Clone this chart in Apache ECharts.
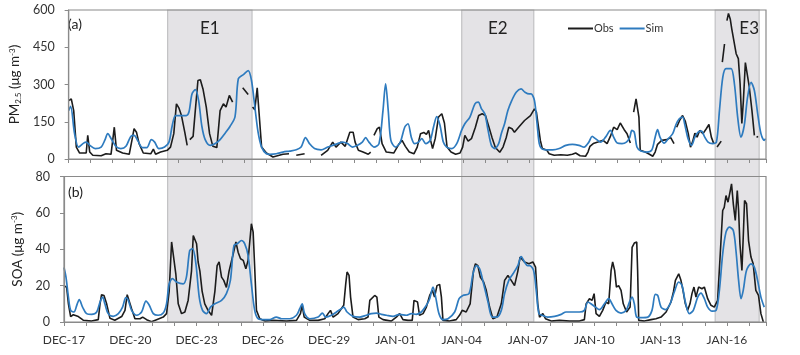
<!DOCTYPE html>
<html>
<head>
<meta charset="utf-8">
<script src="https://cdn.jsdelivr.net/npm/echarts@6/dist/echarts.min.js"></script>
<style>html,body{margin:0;padding:0;background:#fff}#c{width:800px;height:355px}</style>
</head>
<body>
<div id="c"></div>
<script>
// x = days since DEC-17 00:00
const tickLabels = ['DEC-17','DEC-20','DEC-23','DEC-26','DEC-29','JAN-01','JAN-04','JAN-07','JAN-10','JAN-13','JAN-16'];
const eventNames = ['E1','E2','E3'];
const eventStart = [4.69, 18.0, 29.47];
const eventEnd = [8.51, 21.26, 31.46];

const obsPM = [[0,235],[0.12,242],[0.23,195],[0.35,48],[0.5,24],[0.8,24],[0.87,95],[0.96,28],[1.1,15],[1.48,13],[1.7,21],[1.93,19],[2.08,128],[2.18,35],[2.46,24],[2.76,19],[2.91,88],[2.98,122],[3.09,108],[3.21,62],[3.4,24],[3.74,21],[3.86,40],[3.96,19],[4.19,28],[4.49,35],[4.64,48],[4.79,102],[4.91,222],[5.02,206],[5.14,175],[5.29,108],[5.4,55],[5.46,null],[5.52,78],[5.67,91],[5.77,195],[5.89,316],[6.0,319],[6.12,282],[6.27,209],[6.42,102],[6.57,51],[6.75,46],[6.9,195],[7.05,222],[7.17,209],[7.32,256],[7.47,229],[7.7,null],[7.93,287],[8.18,260],[8.28,null],[8.38,209],[8.48,198],[8.59,287],[8.66,282],[8.79,48],[9.01,24],
[9.31,8],[9.76,19],[10.04,21],[10.2,null],[10.37,15],[10.75,21],[11.1,null],[11.5,15],[11.8,35],[12.03,68],[12.18,48],[12.4,68],[12.6,51],[12.81,108],[12.96,108],[13.05,68],[13.2,35],[13.41,28],[13.65,19],[13.76,28],[13.83,null],[13.91,95],[14.06,122],[14.16,128],[14.28,62],[14.47,28],[14.81,24],[15.04,59],[15.19,75],[15.34,51],[15.52,28],[15.73,21],[15.88,48],[16.03,102],[16.18,107],[16.3,99],[16.4,115],[16.49,75],[16.58,42],[16.7,82],[16.85,169],[17.0,182],[17.12,145],[17.24,48],[17.42,28],[17.63,19],[17.83,24],[17.95,48],[18.05,95],[18.2,72],[18.35,82],[18.53,128],[18.68,175],[18.84,182],[18.99,175],[19.14,131],[19.29,86],[19.44,46],[19.64,27],[19.79,48],[19.94,88],[20.05,128],[20.2,122],[20.31,108],[20.5,128],[20.77,155],[21.04,175],
[21.22,202],[21.31,189],[21.4,182],[21.49,75],[21.58,42],[21.79,35],[21.89,21],[22.12,15],[22.42,17],[22.72,15],[22.95,19],[23.1,24],[23.3,13],[23.55,11],[23.66,28],[23.75,51],[23.9,62],[24.11,68],[24.35,75],[24.53,62],[24.68,91],[24.83,128],[24.99,118],[25.13,145],[25.22,139],[25.31,118],[25.44,102],[25.59,64],[25.66,null],[25.74,189],[25.85,242],[25.92,249],[25.98,169],[26.04,35],[26.27,28],[26.46,19],[26.61,11],[26.72,28],[26.83,59],[27.02,75],[27.25,78],[27.43,86],[27.58,62],[27.64,null],[27.7,128],[27.85,158],[27.97,175],[28.09,153],[28.23,102],[28.33,48],[28.42,68],[28.53,104],[28.63,88],[28.75,115],[28.9,102],[29.05,122],[29.17,139],[29.28,88],[29.39,62],[29.46,null],[29.54,48],[29.73,72],[29.76,null],[29.78,390],[29.88,463],[29.94,null],[29.99,557],[30.06,586],[30.14,564],[30.21,524],[30.29,517],[30.41,424],[30.51,404],[30.59,303],[30.67,143],[30.74,235],[30.83,388],[30.91,396],[31.01,289],[31.13,195],[31.24,95],[31.29,null],[31.34,87],[31.41,91]];

const simPM = [[0,195],[0.09,212],[0.27,102],[0.45,48],[0.68,64],[0.8,68],[0.98,54],[1.21,42],[1.48,48],[1.66,78],[1.78,102],[1.96,78],[2.15,51],[2.38,42],[2.61,51],[2.83,91],[2.98,95],[3.16,72],[3.36,46],[3.56,46],[3.77,78],[3.92,68],[4.11,42],[4.37,48],[4.57,68],[4.72,135],[4.87,175],[5.09,175],[5.36,175],[5.48,189],[5.62,262],[5.77,279],[5.92,236],[6.07,131],[6.22,78],[6.45,55],[6.68,62],[6.9,78],[7.13,104],[7.35,131],[7.58,171],[7.73,323],[7.96,340],[8.18,356],[8.33,316],[8.48,212],[8.63,108],[8.79,48],[9.01,21],
[9.16,19],[9.46,21],[9.76,28],[10.07,32],[10.37,37],[10.59,48],[10.79,86],[10.97,62],[11.2,42],[11.5,37],[11.8,48],[12.03,55],[12.25,62],[12.48,68],[12.7,62],[12.93,48],[13.16,55],[13.38,68],[13.53,86],[13.68,68],[13.91,48],[14.14,62],[14.32,195],[14.44,303],[14.56,195],[14.68,75],[14.89,48],[15.11,68],[15.31,128],[15.46,142],[15.61,88],[15.76,62],[15.94,68],[16.09,82],[16.27,62],[16.47,75],[16.62,128],[16.77,171],[16.92,135],[17.07,68],[17.22,48],[17.45,42],[17.68,62],[17.9,115],[18.05,142],[18.28,169],[18.51,222],[18.66,229],[18.81,202],[18.96,182],[19.11,115],[19.26,55],[19.41,42],[19.59,62],[19.71,102],[19.86,142],[20.01,195],[20.19,236],[20.39,269],[20.61,282],[20.79,269],[20.98,262],
[21.07,262],[21.22,236],[21.34,142],[21.44,62],[21.55,42],[21.75,37],[22.05,37],[22.35,42],[22.65,55],[22.95,59],[23.25,55],[23.48,48],[23.7,68],[23.85,91],[24.0,82],[24.23,68],[24.46,88],[24.68,115],[24.83,88],[24.99,64],[25.21,62],[25.41,68],[25.56,86],[25.66,115],[25.77,108],[25.89,48],[26.07,32],[26.34,28],[26.57,37],[26.72,88],[26.83,118],[26.94,88],[27.13,64],[27.32,82],[27.52,102],[27.67,139],[27.82,162],[27.97,169],[28.07,139],[28.22,82],[28.38,55],[28.53,88],[28.68,108],[28.83,112],[28.98,88],[29.13,68],[29.33,62],[29.51,68],[29.65,195],[29.8,329],[29.95,364],[30.18,364],[30.33,303],[30.48,168],[30.63,88],[30.78,135],[30.93,249],[31.09,309],[31.24,276],[31.39,183],[31.54,102],[31.69,75],[31.75,82]];

const obsSOA = [[0,20],[0.12,19],[0.2,10],[0.3,3],[0.42,4],[0.65,3],[0.87,1],[1.25,0.5],[1.55,1.3],[1.63,10],[1.7,15],[1.81,14.6],[1.93,10],[2.08,2],[2.3,1],[2.61,3],[2.76,6.4],[2.86,15],[2.95,14.6],[3.06,7.3],[3.21,1.8],[3.44,1.8],[3.56,2.7],[3.74,1.3],[3.96,0.2],[4.19,1.3],[4.49,2.7],[4.64,4.6],[4.76,17],[4.87,44],[4.94,43],[5.06,26.5],[5.17,10],[5.32,4.6],[5.47,5.5],[5.62,12],[5.77,28],[5.85,47.6],[5.92,46.7],[6.0,43],[6.07,33],[6.15,28],[6.25,17],[6.37,10],[6.52,6.4],[6.68,3.7],[6.83,17],[6.93,31],[7.02,33],[7.13,24.7],[7.23,22.9],[7.35,19],[7.47,28],[7.66,37.5],[7.78,44],[7.88,38.4],[7.99,34.8],[8.11,33.9],[8.23,29.3],[8.33,33.9],[8.44,48.5],[8.48,54],[8.56,49.4],[8.63,30],[8.71,6.4],[8.86,1.8],[9.09,0.5],
[9.46,0.9],[10.07,0.5],[10.52,0.9],[10.7,4.6],[10.78,9.2],[10.87,2.7],[11.12,0.9],[11.5,0.9],[11.8,1.8],[11.95,4.6],[12.06,6.4],[12.18,2.7],[12.4,4.6],[12.55,7.3],[12.66,9.2],[12.75,21],[12.81,27.5],[12.9,25.6],[12.97,13.7],[13.08,2.7],[13.31,1.3],[13.61,1.8],[13.76,2.7],[13.84,11.9],[13.91,12.8],[14.06,14.6],[14.16,13.7],[14.25,2.7],[14.44,1.3],[14.81,0.5],[15.04,2.7],[15.19,4.6],[15.34,1.3],[15.57,0.9],[15.76,0.9],[15.84,11.9],[15.92,12.8],[16.0,11],[16.09,3.7],[16.25,4.6],[16.4,8.2],[16.55,14.6],[16.67,17.4],[16.77,13.7],[16.88,20],[17.0,20.7],[17.08,13.7],[17.15,0.9],[17.45,0.5],[17.75,1.3],[17.9,3.7],[18.02,6.4],[18.2,5.5],[18.38,10],[18.53,28],[18.62,32],[18.73,31],[18.84,24.7],[18.99,22],[19.11,17.4],[19.26,8.2],[19.41,1.8],[19.59,2.7],[19.79,10],[19.94,22.9],[20.09,25.6],[20.24,22.9],[20.39,20],[20.54,28],[20.64,35.7],[20.73,35.3],[20.84,33],[21.04,32],
[21.22,33],[21.34,30.2],[21.44,10],[21.52,2.7],[21.67,4.6],[21.79,1.8],[22.05,0.5],[22.42,0.9],[22.88,0.5],[23.33,0.5],[23.55,1.3],[23.63,10],[23.78,12.8],[23.9,11.9],[23.99,15.6],[24.08,4.6],[24.23,3.1],[24.38,6.4],[24.53,11],[24.65,10],[24.76,28.4],[24.83,33],[24.92,28.4],[25.0,19.2],[25.1,20],[25.21,17.4],[25.31,10],[25.46,5.5],[25.62,8.2],[25.71,41],[25.81,43.4],[25.92,44],[25.96,28.4],[26.01,0.9],[26.27,0.5],[26.57,1.3],[26.79,1.8],[27.02,2.7],[27.25,5.5],[27.47,11],[27.58,16.5],[27.67,22.9],[27.82,26.5],[27.92,22.9],[28.0,18.3],[28.12,10],[28.22,6.4],[28.33,10],[28.42,15.6],[28.51,19.2],[28.6,13.7],[28.72,19.2],[28.87,18.3],[28.98,19.2],[29.13,12.8],[29.28,9.2],[29.43,8.2],[29.58,11.9],[29.7,37.5],[29.81,61.3],[29.88,63],[29.96,69.5],[30.05,65.9],[30.14,71.4],[30.21,76],[30.29,65],[30.38,55.8],[30.47,72.3],[30.53,61.3],[30.59,43],[30.68,28.4],[30.74,46.7],[30.8,66.8],[30.89,65],[30.98,44.8],[31.09,35.7],[31.19,32],[31.31,17.4],[31.43,14.6],[31.54,4.6],[31.65,0]];

const simSOA = [[0,30],[0.09,24.7],[0.2,13.7],[0.3,6.4],[0.45,5.5],[0.6,10],[0.69,12.3],[0.84,8.2],[1.02,4.6],[1.25,4.2],[1.48,5.5],[1.63,11],[1.75,13.7],[1.85,10],[2.0,4.6],[2.23,3.1],[2.46,4.6],[2.65,8.2],[2.8,13.4],[2.91,11.9],[3.06,6.4],[3.29,3.7],[3.51,5.5],[3.71,11.5],[3.86,9.2],[4.04,4.6],[4.26,3.7],[4.49,4.9],[4.64,10],[4.76,21],[4.91,23.8],[5.09,22],[5.39,21],[5.54,24.7],[5.69,39.3],[5.82,40.3],[5.97,32],[6.12,13.7],[6.27,6.4],[6.45,4.6],[6.63,8.2],[6.83,10],[7.13,11.9],[7.35,15.6],[7.53,22.9],[7.69,42],[7.84,43],[8.03,44.8],[8.18,43],[8.33,36.6],[8.48,21],[8.63,6.4],[8.79,1.8],[9.09,1.3],
[9.31,1.3],[9.61,2.7],[9.84,1.8],[10.22,1.8],[10.52,3.7],[10.67,7.3],[10.78,10],[10.89,4.6],[11.12,1.8],[11.5,2.7],[11.69,4.9],[11.85,2.7],[12.1,3.7],[12.33,5.5],[12.55,7.3],[12.66,8.2],[12.81,5.5],[13.08,3.1],[13.38,2.7],[13.68,3.7],[13.91,4.6],[14.14,4.9],[14.36,4.2],[14.59,3.7],[14.89,3.1],[15.19,4.2],[15.49,3.7],[15.72,4.6],[15.94,4.2],[16.17,5.5],[16.4,9.2],[16.55,12.8],[16.7,19.2],[16.82,13.7],[16.97,4.6],[17.15,1.3],[17.38,1.8],[17.68,5.5],[17.88,12.8],[18.05,14.6],[18.33,15.6],[18.51,26.5],[18.66,31],[18.81,29.3],[18.99,21],[19.19,11],[19.38,2.7],[19.59,2.7],[19.79,6.4],[19.94,15.6],[20.13,22.9],[20.32,26.5],[20.54,31],[20.69,36],[20.84,33],[20.98,31],
[21.07,31],[21.25,28.4],[21.37,17.4],[21.49,4.6],[21.64,3.7],[21.89,2.7],[22.2,3.1],[22.5,4.2],[22.72,5.5],[22.98,5.5],[23.33,5.5],[23.55,6.4],[23.71,11],[23.85,10],[24.05,8.2],[24.23,6.8],[24.46,10],[24.65,12.8],[24.8,10],[24.98,6.4],[25.21,4.9],[25.44,6.4],[25.59,11],[25.71,13.7],[25.81,10],[25.92,2.7],[26.11,2.4],[26.42,2.7],[26.61,6.4],[26.76,15.2],[26.87,14.6],[27.02,8.2],[27.22,6.8],[27.43,10],[27.62,16.5],[27.82,22],[27.97,20],[28.12,11],[28.3,4.6],[28.48,6.4],[28.68,13.7],[28.83,15.9],[28.98,12.8],[29.13,8.2],[29.33,6],[29.51,6.4],[29.66,17.4],[29.81,37.5],[29.96,49.4],[30.11,52.2],[30.29,50.3],[30.41,39.3],[30.53,22.9],[30.64,12.8],[30.74,17.4],[30.89,28.4],[31.09,32],[31.24,30.2],[31.39,22.9],[31.54,13.7],[31.69,8.2]];

const X_MIN = 0, X_MAX = 31.77;
const FONT = 'Lato';
const OBS_COLOR = '#1c1c1c', SIM_COLOR = '#2e7bbf';
const AXIS_COLOR = '#8a8a8a';

function xLabel(v) {
  const r = Math.round(v);
  if (Math.abs(v - r) < 1e-6 && r % 3 === 0) return tickLabels[r / 3] || '';
  return '';
}

function xAxisCfg(gridIndex, showLabels) {
  return {
    type: 'value', gridIndex, min: X_MIN, max: X_MAX, interval: 1, z: 5,
    axisLine: { show: true, lineStyle: { color: AXIS_COLOR, width: 1.2 } },
    axisTick: { show: true, inside: false, length: 4, lineStyle: { color: AXIS_COLOR } },
    axisLabel: { show: showLabels, formatter: xLabel, margin: 12, fontFamily: FONT, fontSize: 12, color: '#333' },
    splitLine: { show: false }
  };
}
function yAxisCfg(gridIndex, max, interval, name) {
  return {
    type: 'value', gridIndex, min: 0, max, interval, z: 5,
    name, nameLocation: 'middle', nameRotate: 90, nameGap: 37,
    nameTextStyle: {
      rich: {
        a: { fontFamily: FONT, fontSize: 13.5, color: '#222' },
        b: { fontFamily: FONT, fontSize: 8, color: '#222', verticalAlign: 'bottom' },
        c: { fontFamily: FONT, fontSize: 8, color: '#222', verticalAlign: 'top' }
      }
    },
    axisLine: { show: true, lineStyle: { color: AXIS_COLOR, width: 1.2 } },
    axisTick: { show: true, inside: false, length: 4, lineStyle: { color: AXIS_COLOR } },
    axisLabel: { margin: 14, fontFamily: FONT, fontSize: 12.5, color: '#333' },
    splitLine: { show: false }
  };
}

const areaData = eventNames.map((n, i) => [
  { name: n, xAxis: eventStart[i], label: i === 2 ? { offset: [12, 0] } : {} },
  { xAxis: eventEnd[i] }
]);

const chart = echarts.init(document.getElementById('c'), null, { renderer: 'canvas' });
chart.setOption({
  animation: false,
  backgroundColor: '#fff',
  grid: [
    { left: 64, right: 34, top: 10, height: 149, show: true, borderColor: AXIS_COLOR, borderWidth: 1.2, backgroundColor: 'transparent', z: 5 },
    { left: 64, right: 34, top: 176.5, height: 145.5, show: true, borderColor: AXIS_COLOR, borderWidth: 1.2, backgroundColor: 'transparent', z: 5 },
    { left: 64, right: 34, top: 10, bottom: 33, show: false }
  ],
  xAxis: [
    xAxisCfg(0, false),
    xAxisCfg(1, true),
    { type: 'value', gridIndex: 2, min: X_MIN, max: X_MAX, show: false }
  ],
  yAxis: [
    yAxisCfg(0, 600, 150, '{a|PM}{b|2.5}{a| (μg m}{c|-3}{a|)}'),
    yAxisCfg(1, 80, 20, '{a|SOA (μg m}{c|-3}{a|)}'),
    { type: 'value', gridIndex: 2, min: 0, max: 1, show: false }
  ],
  legend: {
    left: 563, top: 18, itemWidth: 25, itemHeight: 2, itemGap: 6, icon: 'rect',
    data: ['Obs', 'Sim'],
    textStyle: { fontFamily: FONT, fontSize: 11, color: '#333', padding: [0, 0, 0, -4] }
  },
  graphic: [
    { type: 'text', left: 68, top: 17, style: { text: '(a)', font: '14px Lato', fill: '#222' } },
    { type: 'text', left: 68, top: 185, style: { text: '(b)', font: '14px Lato', fill: '#222' } }
  ],
  series: [
    {
      type: 'line', name: 'events', xAxisIndex: 2, yAxisIndex: 2, data: [], silent: true,
      markArea: {
        silent: true,
        itemStyle: { color: '#e4e3e6', borderColor: '#c2c2c4', borderWidth: 1.2 },
        label: { show: true, position: 'insideTop', distance: 11, fontFamily: FONT, fontSize: 17, color: '#222' },
        data: areaData
      }
    },
    { type: 'line', name: 'Obs', xAxisIndex: 0, yAxisIndex: 0, data: obsPM, showSymbol: false, connectNulls: false, lineStyle: { color: OBS_COLOR, width: 1.6 }, itemStyle: { color: OBS_COLOR }, z: 3 },
    { type: 'line', name: 'Sim', xAxisIndex: 0, yAxisIndex: 0, data: simPM, showSymbol: false, smooth: 0.3, lineStyle: { color: SIM_COLOR, width: 1.7 }, itemStyle: { color: SIM_COLOR }, z: 4 },
    { type: 'line', name: 'Obs', xAxisIndex: 1, yAxisIndex: 1, data: obsSOA, showSymbol: false, connectNulls: false, lineStyle: { color: OBS_COLOR, width: 1.6 }, itemStyle: { color: OBS_COLOR }, z: 3 },
    { type: 'line', name: 'Sim', xAxisIndex: 1, yAxisIndex: 1, data: simSOA, showSymbol: false, smooth: 0.3, lineStyle: { color: SIM_COLOR, width: 1.7 }, itemStyle: { color: SIM_COLOR }, z: 4 }
  ]
});
</script>
</body>
</html>
